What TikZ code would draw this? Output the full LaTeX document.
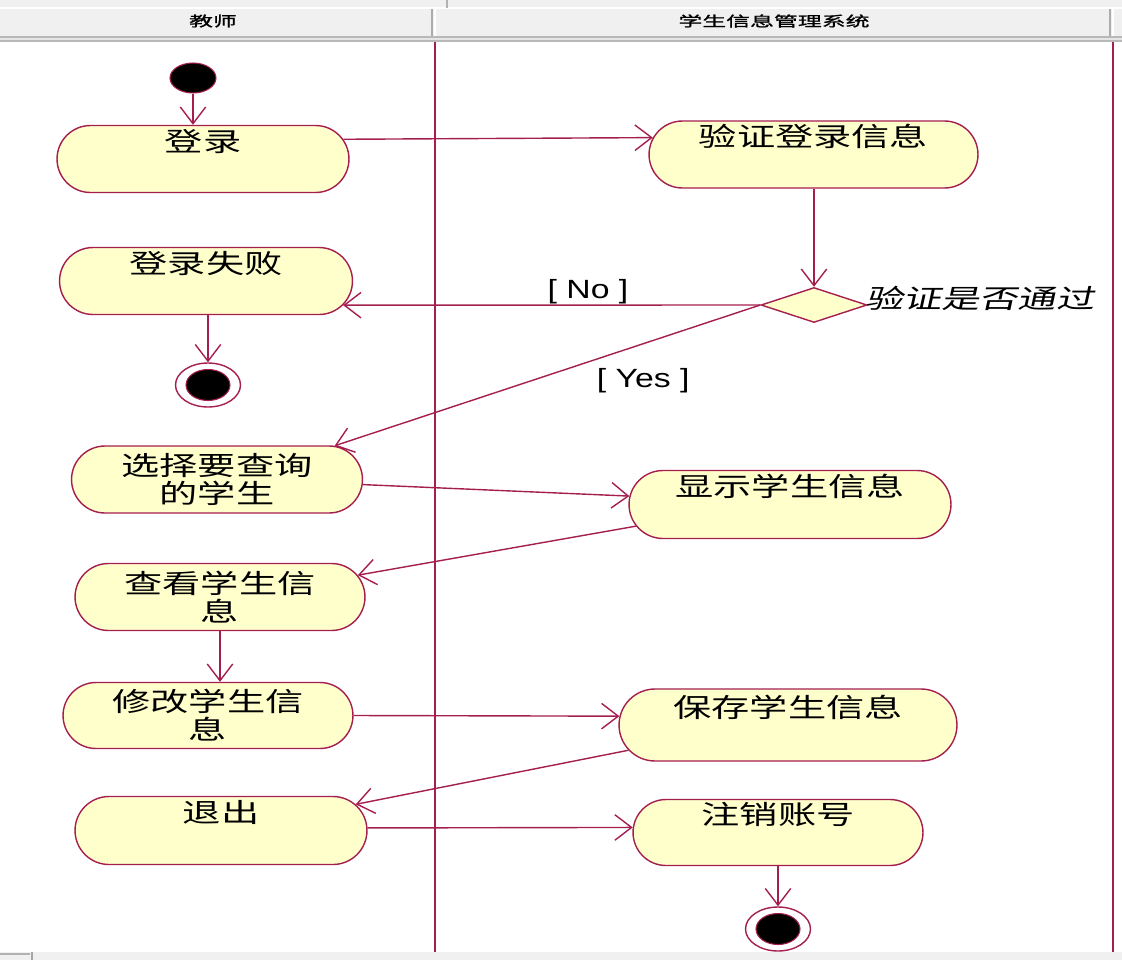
\documentclass[tikz,border=0pt]{standalone}
\usepackage{fontspec}
\usetikzlibrary{shapes.misc,shapes.geometric,arrows.meta}
\newfontfamily\cjk[FakeStretch=1.45]{Noto Sans CJK SC}
\newfontfamily\cjkit[FakeStretch=1.45,FakeSlant=0.22]{Noto Sans CJK SC}
\newfontfamily\hdrfont[FakeStretch=1.7,FakeBold=1.2]{Noto Sans CJK SC}
\newfontfamily\latfont[FakeStretch=1.28]{Liberation Sans}
\definecolor{umlred}{RGB}{165,30,80}
\definecolor{umlfill}{RGB}{255,255,204}
\definecolor{hdrgray}{RGB}{240,240,240}
\begin{document}
\begin{tikzpicture}[x=0.02cm,y=-0.02cm,
  act/.style={rounded rectangle, draw=umlred, fill=umlfill, line width=0.8pt,
    inner sep=0pt, minimum height=1.34cm,
    font=\cjk\fontsize{15pt}{16pt}\selectfont},
  toptext/.style={text height=0.45cm, text depth=0.77cm},
  flow/.style={draw=umlred, line width=0.8pt, -{Straight Barb[length=9.5pt,width=14.5pt]}},
  lbl/.style={font=\latfont\fontsize{15pt}{17pt}\selectfont, inner sep=0pt},
  startnode/.style={ellipse, draw=umlred, fill=black, line width=0.6pt,
    minimum width=0.92cm, minimum height=0.6cm, inner sep=0pt},
  finalnode/.style={ellipse, draw=umlred, fill=white, line width=0.8pt,
    minimum width=1.3cm, minimum height=0.88cm, inner sep=0pt,
    path picture={\filldraw[fill=black, draw=umlred, line width=0.6pt]
      (path picture bounding box.center) ellipse [x radius=0.44cm, y radius=0.31cm];}},
  decnode/.style={diamond, draw=umlred, fill=umlfill, line width=0.8pt,
    minimum width=2.12cm, minimum height=0.7cm, inner sep=0pt},
  hdr/.style={font=\hdrfont\fontsize{8pt}{9pt}\selectfont, inner sep=0pt},
  lane/.style={draw=umlred, line width=1.1pt}
]
\useasboundingbox (0,0) rectangle (1122,960);
% header
\fill[hdrgray] (0,0) rectangle (1122,37);
\draw[white, line width=1pt] (0,8) -- (1122,8);
\draw[gray!60, line width=0.6pt] (447,0) -- (447,8);
\fill[gray!55] (0,36) rectangle (1122,42);
\draw[gray!20, line width=0.6pt] (0,39) -- (1122,39);
\draw[gray!65, line width=1pt] (432,9) -- (432,36);
\draw[white, line width=0.8pt] (435,9) -- (435,36);
\draw[gray!65, line width=1pt] (1110,9) -- (1110,36);
\draw[white, line width=0.8pt] (1113,9) -- (1113,36);
\node[hdr] (h1) at (213,21) {教师};
\node[hdr] (h2) at (774,21) {学生信息管理系统};
% bottom strip
\fill[hdrgray] (0,952) rectangle (1122,960);
\draw[gray!60, line width=0.6pt] (0,954) -- (30,954);
\draw[gray!70, line width=0.8pt] (32,952) -- (32,960);
% swimlanes
\draw[lane] (435,42) -- (435,952);
\draw[lane] (1113,42) -- (1113,952);

% nodes
\node[startnode] (start) at (193,78) {};
\node[act, toptext, minimum width=5.84cm] (login) at (203,159) {登录};
\node[act, toptext, minimum width=6.58cm] (verify) at (813.5,154.5) {验证登录信息};
\node[decnode, label={[font=\cjkit\fontsize{15pt}{16pt}\selectfont, anchor=west, inner sep=0pt, xshift=-0.06cm, yshift=0.14cm]east:验证是否通过}] (dec) at (814,305) {};
\node[act, toptext, minimum width=5.86cm] (fail) at (206,281) {登录失败};
\node[finalnode] (fin1) at (208,385) {};
\node[act, align=center, minimum width=5.82cm] (select) at (217,479.5) {选择要查询\\的学生};
\node[act, toptext, minimum width=6.44cm, minimum height=1.36cm] (show) at (790,504.5) {显示学生信息};
\node[act, align=center, minimum width=5.8cm] (view) at (220,597) {查看学生信\\息};
\node[act, align=center, minimum width=5.8cm, minimum height=1.32cm] (modify) at (208,715.5) {修改学生信\\息};
\node[act, toptext, minimum width=6.76cm, minimum height=1.44cm] (save) at (788,725) {保存学生信息};
\node[act, toptext, minimum width=5.84cm, minimum height=1.36cm] (exit) at (221,830.5) {退出};
\node[act, toptext, minimum width=5.8cm, minimum height=1.32cm] (logout) at (778,832.5) {注销账号};
\node[finalnode] (fin2) at (778,929) {};

% connectors
\draw[flow] (start.south) -- (start.south |- login.north);
\draw[flow] (login.8.6) -- (verify.174.1);
\draw[flow] (verify.south -| dec.north) -- (dec.north);
\draw[flow] (dec.west) -- node[lbl, pos=0.413, yshift=0.26cm] {[ No ]} (fail.-10);
\draw[flow] (fin1.north |- fail.south) -- (fin1.north);
\draw[flow] (dec.west) -- node[lbl, pos=0.275, yshift=-0.74cm] {[ Yes ]} (select.16.9);
\draw[flow] (select.-2.2) -- (show.177.3);
\draw[flow] (show.188.4) -- (view.9.6);
\draw[flow] (view.south) -- (view.south |- modify.north);
\draw[flow] (modify.-0.6) -- (save.177.3);
\draw[flow] (save.189.8) -- (exit.11.2);
\draw[flow] (exit.1) -- (logout.178.2);
\draw[flow] (fin2.north |- logout.south) -- (fin2.north);
\end{tikzpicture}
\end{document}
